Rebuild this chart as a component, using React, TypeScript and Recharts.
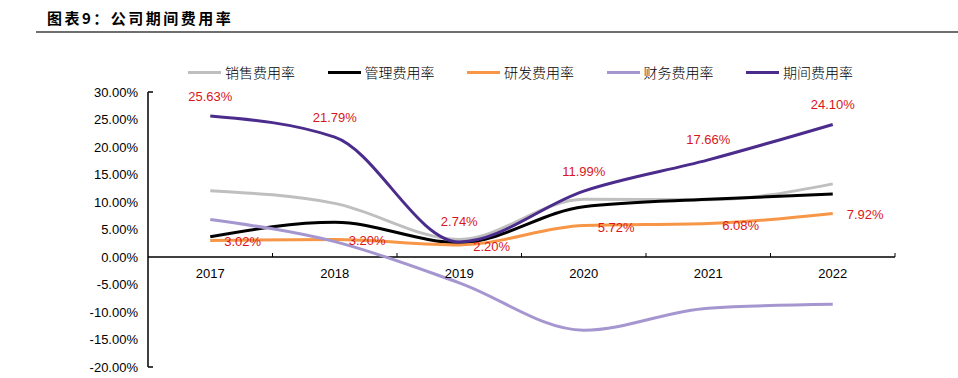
import React from 'react';
import { LineChart, Line, XAxis, YAxis, ReferenceLine, LabelList } from 'recharts';

const years = ['2017', '2018', '2019', '2020', '2021', '2022'];
const salesRate = [12.05, 9.75, 3.2, 10.5, 10.4, 13.3];
const adminRate = [3.7, 6.3, 2.6, 9.15, 10.5, 11.45];
const rdRate = [3.02, 3.2, 2.2, 5.72, 6.08, 7.92];
const financeRate = [6.8, 2.8, -4.7, -13.3, -9.3, -8.6];
const periodRate = [25.63, 21.79, 2.74, 11.99, 17.66, 24.1];
const yTicks = [-20, -15, -10, -5, 0, 5, 10, 15, 20, 25, 30];

const data = years.map((year, i) => ({
  year,
  sales: salesRate[i],
  admin: adminRate[i],
  rd: rdRate[i],
  finance: financeRate[i],
  period: periodRate[i],
}));

const W = 958;
const H = 378;
const TOP = 92;
const LEFT = 148;
const RIGHT = 895;
const BOTTOM = 367;
const Y_MIN = -20;
const Y_MAX = 30;
const ZERO_Y = TOP + ((BOTTOM - TOP) * Y_MAX) / (Y_MAX - Y_MIN);
const BAND = (RIGHT - LEFT) / years.length;

const NUM_FONT = '"Liberation Sans", Arial, sans-serif';
const CJK_FONT = '"Noto Sans CJK SC", sans-serif';
const LABEL_RED = '#d9161c';

const series = [
  { key: 'sales', name: '销售费用率', color: '#bfbfbf' },
  { key: 'admin', name: '管理费用率', color: '#000000' },
  { key: 'rd', name: '研发费用率', color: '#f79646' },
  { key: 'finance', name: '财务费用率', color: '#a596d0' },
  { key: 'period', name: '期间费用率', color: '#4b2c8c' },
];

const fmt = (v: number) => `${v.toFixed(2)}%`;

const XTick = (props: any) => {
  const { x, payload } = props;
  return (
    <g>
      <text x={x} y={ZERO_Y + 16} textAnchor="middle" dominantBaseline="central" fontSize={13} fontFamily={NUM_FONT} fill="#000">
        {payload.value}
      </text>
      <line x1={x + BAND / 2} x2={x + BAND / 2} y1={ZERO_Y} y2={ZERO_Y - 4} stroke="#000" strokeWidth={1} />
    </g>
  );
};

const YTick = (props: any) => {
  const { x, y, payload } = props;
  const edge = payload.value === Y_MIN || payload.value === Y_MAX;
  return (
    <g>
      <text x={x} y={y} textAnchor="end" dominantBaseline="central" fontSize={13} fontFamily={NUM_FONT} fill="#000">
        {fmt(payload.value)}
      </text>
      {edge && <line x1={LEFT} x2={LEFT + 5} y1={y} y2={y} stroke="#000" strokeWidth={1.5} />}
    </g>
  );
};

const LabelAbove = (p: any) => (
  <text x={p.x} y={p.y - 20} textAnchor="middle" dominantBaseline="central" fontSize={13} fontFamily={NUM_FONT} fill={LABEL_RED}>
    {fmt(p.value)}
  </text>
);

const LabelRight = (p: any) => (
  <text x={p.x + 14} y={p.y + 1.5} textAnchor="start" dominantBaseline="central" fontSize={13} fontFamily={NUM_FONT} fill={LABEL_RED}>
    {fmt(p.value)}
  </text>
);

export default function App() {
  return (
    <div style={{ position: 'absolute', left: 0, top: 0, width: W, height: H, background: '#fff' }}>
      <div
        style={{
          position: 'absolute',
          left: 47,
          top: 7,
          fontFamily: CJK_FONT,
          fontWeight: 700,
          fontSize: 15,
          letterSpacing: 2.5,
          color: '#000',
          whiteSpace: 'nowrap',
        }}
      >
        图表9：公司期间费用率
      </div>
      <div style={{ position: 'absolute', left: 36, top: 31, width: W - 36, height: 2, background: '#6e6e6e' }} />
      {/* legend */}
      <div style={{ position: 'absolute', left: 188, top: 62, display: 'flex', height: 20 }}>
        {series.map(s => (
          <div key={s.key} style={{ width: 139.5, display: 'flex', alignItems: 'center' }}>
            <div style={{ width: 33, height: 3, background: s.color, marginRight: 4 }} />
            <span style={{ fontFamily: CJK_FONT, fontSize: 14, color: '#000', fontWeight: 300, whiteSpace: 'nowrap' }}>{s.name}</span>
          </div>
        ))}
      </div>
      <LineChart width={W} height={H} data={data} margin={{ top: TOP, right: W - RIGHT, bottom: 0, left: 0 }}>
        <XAxis
          dataKey="year"
          axisLine={false}
          tickLine={false}
          tick={<XTick />}
          height={H - BOTTOM}
          interval={0}
          padding={{ left: BAND / 2, right: BAND / 2 }}
        />
        <YAxis
          domain={[Y_MIN, Y_MAX]}
          ticks={yTicks}
          width={LEFT}
          tickLine={false}
          tickSize={0}
          tickMargin={10}
          axisLine={{ stroke: '#000', strokeWidth: 1.5 }}
          tick={<YTick />}
          interval={0}
        />
        <ReferenceLine y={0} stroke="#000" strokeWidth={1.5} />
        {series.map(s => (
          <Line
            key={s.key}
            type="monotone"
            dataKey={s.key}
            name={s.name}
            stroke={s.color}
            strokeWidth={3}
            dot={false}
            activeDot={false}
            isAnimationActive={false}
          >
            {s.key === 'period' && <LabelList dataKey="period" content={<LabelAbove />} />}
            {s.key === 'rd' && <LabelList dataKey="rd" content={<LabelRight />} />}
          </Line>
        ))}
      </LineChart>
    </div>
  );
}
